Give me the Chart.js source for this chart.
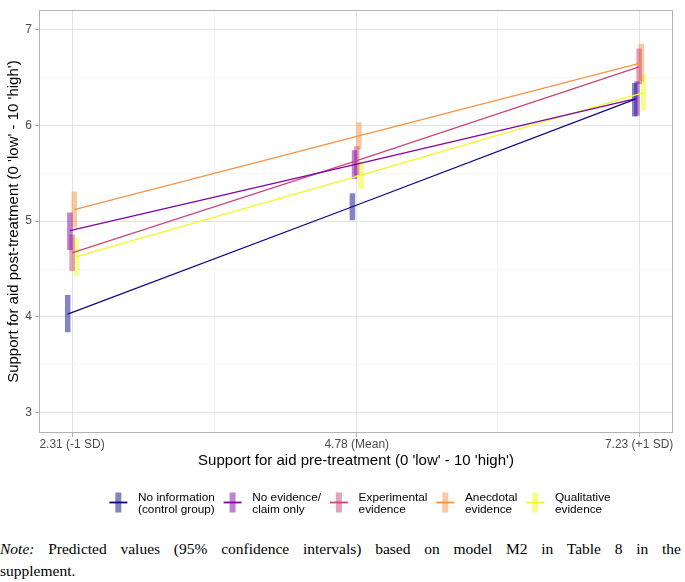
<!DOCTYPE html>
<html><head><meta charset="utf-8">
<script src="https://cdn.jsdelivr.net/npm/chart.js@4"></script>
<style>
html,body{margin:0;padding:0;background:#fff;}
body{width:685px;height:582px;overflow:hidden;position:relative;}
#wrap{position:absolute;left:0;top:0;width:685px;height:525px;}
.note{position:absolute;left:0;width:681px;font-family:"Liberation Serif","DejaVu Serif",serif;font-size:15.5px;line-height:19px;color:#000;white-space:nowrap;}
#n1{top:539px;text-align:justify;text-align-last:justify;white-space:normal;}
#n2{top:561px;}
</style></head><body>
<div id="wrap"><canvas id="c" width="685" height="525"></canvas></div>
<div class="note" id="n1"><i>Note:</i> Predicted values (95% confidence intervals) based on model M2 in Table 8 in the</div>
<div class="note" id="n2">supplement.</div>
<script>
// ---- data ----
const groups = ['No information (control group)', 'No evidence/ claim only', 'Experimental evidence', 'Anecdotal evidence', 'Qualitative evidence'];
const legendLines = [['No information', '(control group)'], ['No evidence/', 'claim only'], ['Experimental', 'evidence'], ['Anecdotal', 'evidence'], ['Qualitative', 'evidence']];
const xValues = [2.31, 4.78, 7.23];
const xTickLabels = ['2.31 (-1 SD)', '4.78 (Mean)', '7.23 (+1 SD)'];
const yTickValues = [3, 4, 5, 6, 7];

const noInfo      = [4.03, 5.15, 6.27];
const noInfoLo    = [3.84, 5.01, 6.09];
const noInfoHi    = [4.23, 5.29, 6.44];
const noEvidence   = [4.90, 5.59, 6.28];
const noEvidenceLo = [4.70, 5.44, 6.10];
const noEvidenceHi = [5.09, 5.74, 6.46];
const experimental   = [4.67, 5.63, 6.61];
const experimentalLo = [4.48, 5.48, 6.43];
const experimentalHi = [4.86, 5.78, 6.80];
const anecdotal   = [5.12, 5.89, 6.65];
const anecdotalLo = [4.93, 5.75, 6.46];
const anecdotalHi = [5.31, 6.03, 6.85];
const qualitative   = [4.63, 5.48, 6.34];
const qualitativeLo = [4.43, 5.34, 6.16];
const qualitativeHi = [4.83, 5.62, 6.53];

const seriesMid = [noInfo, noEvidence, experimental, anecdotal, qualitative];
const seriesLo  = [noInfoLo, noEvidenceLo, experimentalLo, anecdotalLo, qualitativeLo];
const seriesHi  = [noInfoHi, noEvidenceHi, experimentalHi, anecdotalHi, qualitativeHi];

// ---- styling ----
const lineColors = ['#0D0887', '#7E03A8', '#CC4678', '#F89441', '#F0F921'];
const barColors  = ['rgba(13,8,135,0.5)', 'rgba(126,3,168,0.5)', 'rgba(204,70,120,0.5)', 'rgba(248,148,65,0.5)', 'rgba(240,249,33,0.5)'];
const dodgeIndex = [-2, -1, 0, 1, 2];
const dodgeStep = 0.019;
const SANS = '"Liberation Sans", Arial, sans-serif';

const xGrid = [];
xValues.forEach((v, i) => { xGrid.push(v); if (i < xValues.length - 1) xGrid.push((v + xValues[i + 1]) / 2); });
const yGrid = [];
for (let i = 0; i < yTickValues.length; i++) { yGrid.push(yTickValues[i]); if (i < yTickValues.length - 1) yGrid.push((yTickValues[i] + yTickValues[i + 1]) / 2); }

const datasets = [];
groups.forEach((g, k) => {
  const off = dodgeIndex[k] * dodgeStep;
  datasets.push({
    label: g, order: 0,
    data: xValues.map((x, i) => ({x: x + off, y: seriesMid[k][i]})),
    borderColor: lineColors[k], borderWidth: 1.3, pointRadius: 0, tension: 0, fill: false
  });
});
groups.forEach((g, k) => {
  const off = dodgeIndex[k] * dodgeStep;
  const d = [];
  xValues.forEach((x, i) => {
    d.push({x: x + off, y: seriesLo[k][i]});
    d.push({x: x + off, y: seriesHi[k][i]});
    d.push({x: x + off, y: null});
  });
  datasets.push({
    label: g + ' CI', order: 1,
    data: d, borderColor: barColors[k], borderWidth: 5.5, borderCapStyle: 'butt',
    pointRadius: 0, spanGaps: false, tension: 0, fill: false
  });
});

const isMajorX = v => xValues.some(t => Math.abs(t - v) < 1e-9);
const isMajorY = v => yTickValues.some(t => Math.abs(t - v) < 1e-9);

const panelBorder = {
  id: 'panelBorder',
  afterDraw(chart) {
    const a = chart.chartArea, ctx = chart.ctx;
    ctx.save();
    ctx.strokeStyle = '#B3B3B3'; ctx.lineWidth = 1;
    ctx.strokeRect(Math.round(a.left) + 0.5, Math.round(a.top) + 0.5, Math.round(a.right - a.left) - 1, Math.round(a.bottom - a.top) - 1);
    ctx.restore();
  }
};

const customLegend = {
  id: 'customLegend',
  afterDraw(chart) {
    const ctx = chart.ctx;
    ctx.save();
    ctx.font = '11.8px ' + SANS;
    const keyW = 18, gapKT = 10.7, gapItem = 8.8;
    const widths = legendLines.map(ls => Math.max(...ls.map(l => ctx.measureText(l).width)));
    const total = widths.reduce((s, w) => s + keyW + gapKT + w, 0) + gapItem * (widths.length - 1);
    let x = 360 - total / 2;
    const yc = 502.5;
    legendLines.forEach((ls, k) => {
      const cx = x + keyW / 2;
      ctx.fillStyle = barColors[k];
      ctx.fillRect(cx - 3, yc - 10, 6, 20);
      ctx.strokeStyle = lineColors[k]; ctx.lineWidth = 1.8;
      ctx.beginPath(); ctx.moveTo(x, yc); ctx.lineTo(x + keyW, yc); ctx.stroke();
      ctx.fillStyle = '#000'; ctx.textAlign = 'left'; ctx.textBaseline = 'middle';
      ctx.fillText(ls[0], x + keyW + gapKT, yc - 5);
      ctx.fillText(ls[1], x + keyW + gapKT, yc + 7.5);
      x += keyW + gapKT + widths[k] + gapItem;
    });
    ctx.restore();
  }
};

new Chart(document.getElementById('c'), {
  type: 'line',
  data: {datasets},
  plugins: [panelBorder, customLegend],
  options: {
    responsive: false, animation: false,
    layout: {padding: {top: 7, right: 12, bottom: 55, left: 0}},
    plugins: {legend: {display: false}, tooltip: {enabled: false}},
    scales: {
      x: {
        type: 'linear', min: 2.023, max: 7.524,
        afterBuildTicks: s => { s.ticks = xGrid.map(v => ({value: v})); },
        afterFit: s => { s.height = 37; },
        ticks: {
          autoSkip: false, maxRotation: 0, padding: 0, color: '#4D4D4D',
          font: {family: SANS, size: 12},
          callback: v => { const i = xValues.findIndex(t => Math.abs(t - v) < 1e-9); return i >= 0 ? xTickLabels[i] : ''; }
        },
        grid: {
          color: c => isMajorX(c.tick.value) ? '#E3E3E3' : '#F0F0F0',
          lineWidth: c => isMajorX(c.tick.value) ? 1 : 0.6,
          tickColor: c => isMajorX(c.tick.value) ? '#B3B3B3' : 'rgba(0,0,0,0)',
          tickLength: 4, drawTicks: true
        },
        border: {display: false},
        title: {display: true, text: "Support for aid pre-treatment (0 'low' - 10 'high')", color: '#000', font: {family: SANS, size: 15}, padding: {top: 0, bottom: 0}}
      },
      y: {
        type: 'linear', min: 2.79, max: 7.2,
        afterBuildTicks: s => { s.ticks = yGrid.map(v => ({value: v})); },
        afterFit: s => { s.width = 39; },
        ticks: {
          autoSkip: false, padding: 3, color: '#4D4D4D', font: {family: SANS, size: 12},
          callback: v => isMajorY(v) ? String(v) : ''
        },
        grid: {
          color: c => isMajorY(c.tick.value) ? '#E3E3E3' : '#F0F0F0',
          lineWidth: c => isMajorY(c.tick.value) ? 1 : 0.6,
          tickColor: c => isMajorY(c.tick.value) ? '#B3B3B3' : 'rgba(0,0,0,0)',
          tickLength: 4, drawTicks: true
        },
        border: {display: false},
        title: {display: true, text: "Support for aid post-treatment (0 'low' - 10 'high')", color: '#000', font: {family: SANS, size: 15}, padding: {top: 5, bottom: 0}}
      }
    }
  }
});
</script>
</body></html>
